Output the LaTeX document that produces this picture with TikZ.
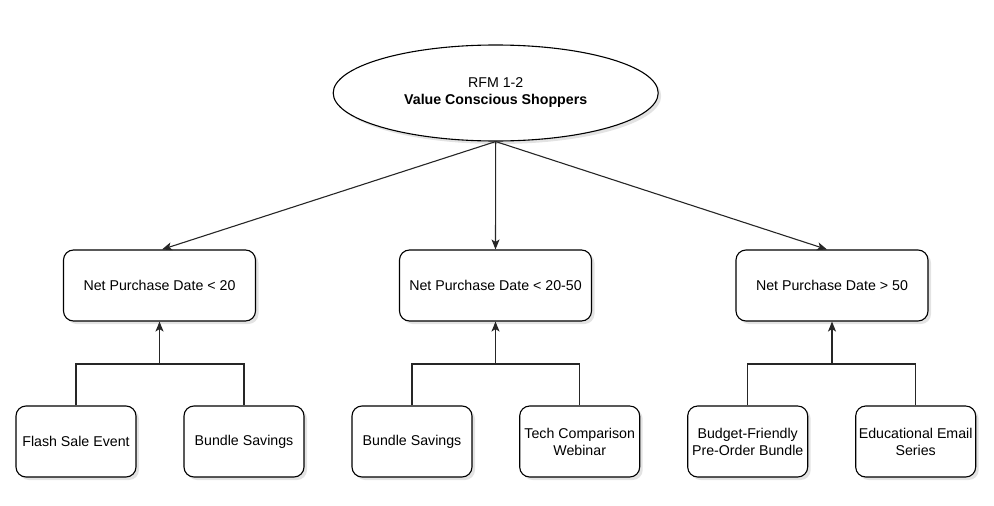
\documentclass[tikz,border=0pt]{standalone}
\usepackage{fontspec}
\setmainfont{Liberation Sans}
\usetikzlibrary{shapes.geometric,shadows,arrows.meta,calc}
\begin{document}
\begin{tikzpicture}[x=1pt,y=-1pt,
  shd/.style={drop shadow={opacity=0.22,shadow xshift=3pt,shadow yshift=-3pt}},
  base/.style={draw=black,line width=1.1pt,fill=white,shd,align=center,inner sep=0pt,
    font=\fontsize{14.2}{17}\selectfont},
  midbox/.style={base,rounded corners=10pt,minimum width=192pt,minimum height=71pt},
  leafbox/.style={base,rounded corners=10pt,minimum width=120pt,minimum height=71pt},
  topell/.style={base,ellipse,minimum width=325pt,minimum height=96pt},
  conn/.style={draw=black!85,line width=1.1pt},
  arr/.style={conn,-{Stealth[length=10pt,width=8pt,inset=2.5pt]}}
]
\useasboundingbox (0,0) rectangle (994,506);

\node[topell] (top) at (495.7,93) {RFM 1-2\\\textbf{Value Conscious Shoppers}};

\node[midbox] (b1) at (159.5,285.5) {Net Purchase Date {\char`\<} 20};
\node[midbox] (b2) at (495.5,285.5) {Net Purchase Date {\char`\<} 20-50};
\node[midbox] (b3) at (832,285.5) {Net Purchase Date {\char`\>} 50};

\node[leafbox] (c1) at (76,441.5) {Flash Sale Event};
\node[leafbox] (c2) at (244,441.5) {Bundle Savings};
\node[leafbox] (c3) at (412,441.5) {Bundle Savings};
\node[leafbox] (c4) at (579.7,441.5) {Tech Comparison\\Webinar};
\node[leafbox] (c5) at (747.7,441.5) {Budget-Friendly\\Pre-Order Bundle};
\node[leafbox] (c6) at (915.7,441.5) {Educational Email\\Series};

\coordinate (j1) at (159.5,364);
\coordinate (j2) at (495.5,364);
\coordinate (j3) at (832,364);

\draw[arr] (top.south) -- ($(b1.north)+(2.5,0)$);
\draw[arr] (top.south) -- (b2.north);
\draw[arr] (top.south) -- ($(b3.north)+(-5,0)$);

\draw[conn] (c1.north) |- (j1);
\draw[conn] (c2.north) |- (j1);
\draw[arr] (j1) -- (b1.south);
\draw[conn] (c3.north) |- (j2);
\draw[conn] (c4.north) |- (j2);
\draw[arr] (j2) -- (b2.south);
\draw[conn] (c5.north) |- (j3);
\draw[conn] (c6.north) |- (j3);
\draw[arr] (j3) -- (b3.south);
\end{tikzpicture}
\end{document}
